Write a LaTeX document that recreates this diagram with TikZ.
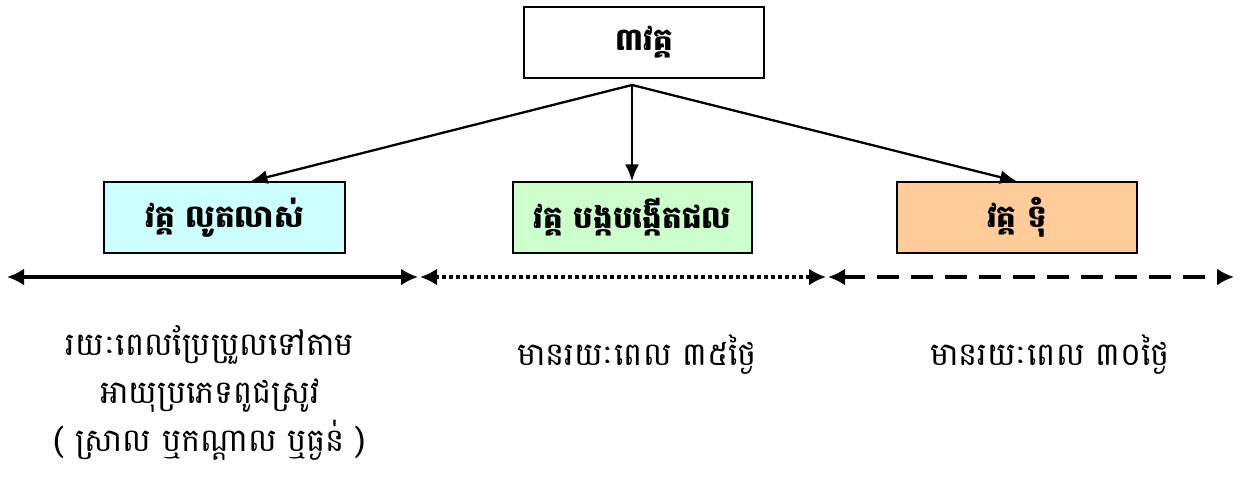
\documentclass[tikz,border=0pt]{standalone}
\usepackage{fontspec}
\newfontfamily\khmer[Script=Khmer]{Battambang}
\usetikzlibrary{arrows.meta}
\definecolor{boxcyan}{HTML}{CCFFFF}
\definecolor{boxgreen}{HTML}{CCFFCC}
\definecolor{boxorange}{HTML}{FFCC99}
\begin{document}
\begin{tikzpicture}[x=1pt,y=1pt,
  stagebox/.style={draw=black,line width=1.3pt,minimum width=240pt,minimum height=71pt,inner sep=0pt,font=\khmer\bfseries\fontsize{31}{36}\selectfont},
  linkarrow/.style={line width=2.3pt,-{Latex[length=17pt,width=14pt]}},
  spanarrow/.style={line width=3.2pt,{Latex[length=17pt,width=17pt]}-{Latex[length=17pt,width=17pt]}},
  note/.style={align=center,inner sep=0pt,font=\khmer\fontsize{32}{48}\selectfont}]
\useasboundingbox (0,0) rectangle (1239,477);
\node[stagebox,fill=white] (top) at (644,434.5) {៣វគ្គ};
\node[stagebox,fill=boxcyan,minimum width=241pt] (b1) at (224.5,259.5) {វគ្គ លូតលាស់};
\node[stagebox,fill=boxgreen,minimum width=239pt] (b2) at (632.5,259.5) {វគ្គ បង្កបង្កើតផល};
\node[stagebox,fill=boxorange] (b3) at (1017,259.5) {វគ្គ ទុំ};
\coordinate (apex) at (632,392);
\draw[linkarrow] (apex) -- ([xshift=26pt]b1.north);
\draw[linkarrow] (apex) -- (b2.north -| apex);
\draw[linkarrow] (apex) -- (b3.north);
\coordinate (h0) at (7,200);
\coordinate (h1) at (418,200);
\coordinate (h1b) at (420,200);
\coordinate (h2) at (826,200);
\coordinate (h2b) at (828,200);
\coordinate (h3) at (1234,200);
\draw[spanarrow] (h0) -- (h1);
\draw[spanarrow,dash pattern=on 3.5pt off 3.5pt] (h1b) -- (h2);
\draw[spanarrow,dash pattern=on 22pt off 12pt] (h2b) -- (h3);
\node[note] (t1) at (210,84) {រយៈពេលប្រែប្រួលទៅតាម\\អាយុប្រភេទពូជស្រូវ\\( ស្រាល ឬកណ្ដាល ឬធ្ងន់ )};
\node[note] (t2) at (637,122) {មានរយៈពេល ៣៥ថ្ងៃ};
\node[note] (t3) at (1050,122) {មានរយៈពេល ៣០ថ្ងៃ};
\end{tikzpicture}
\end{document}
